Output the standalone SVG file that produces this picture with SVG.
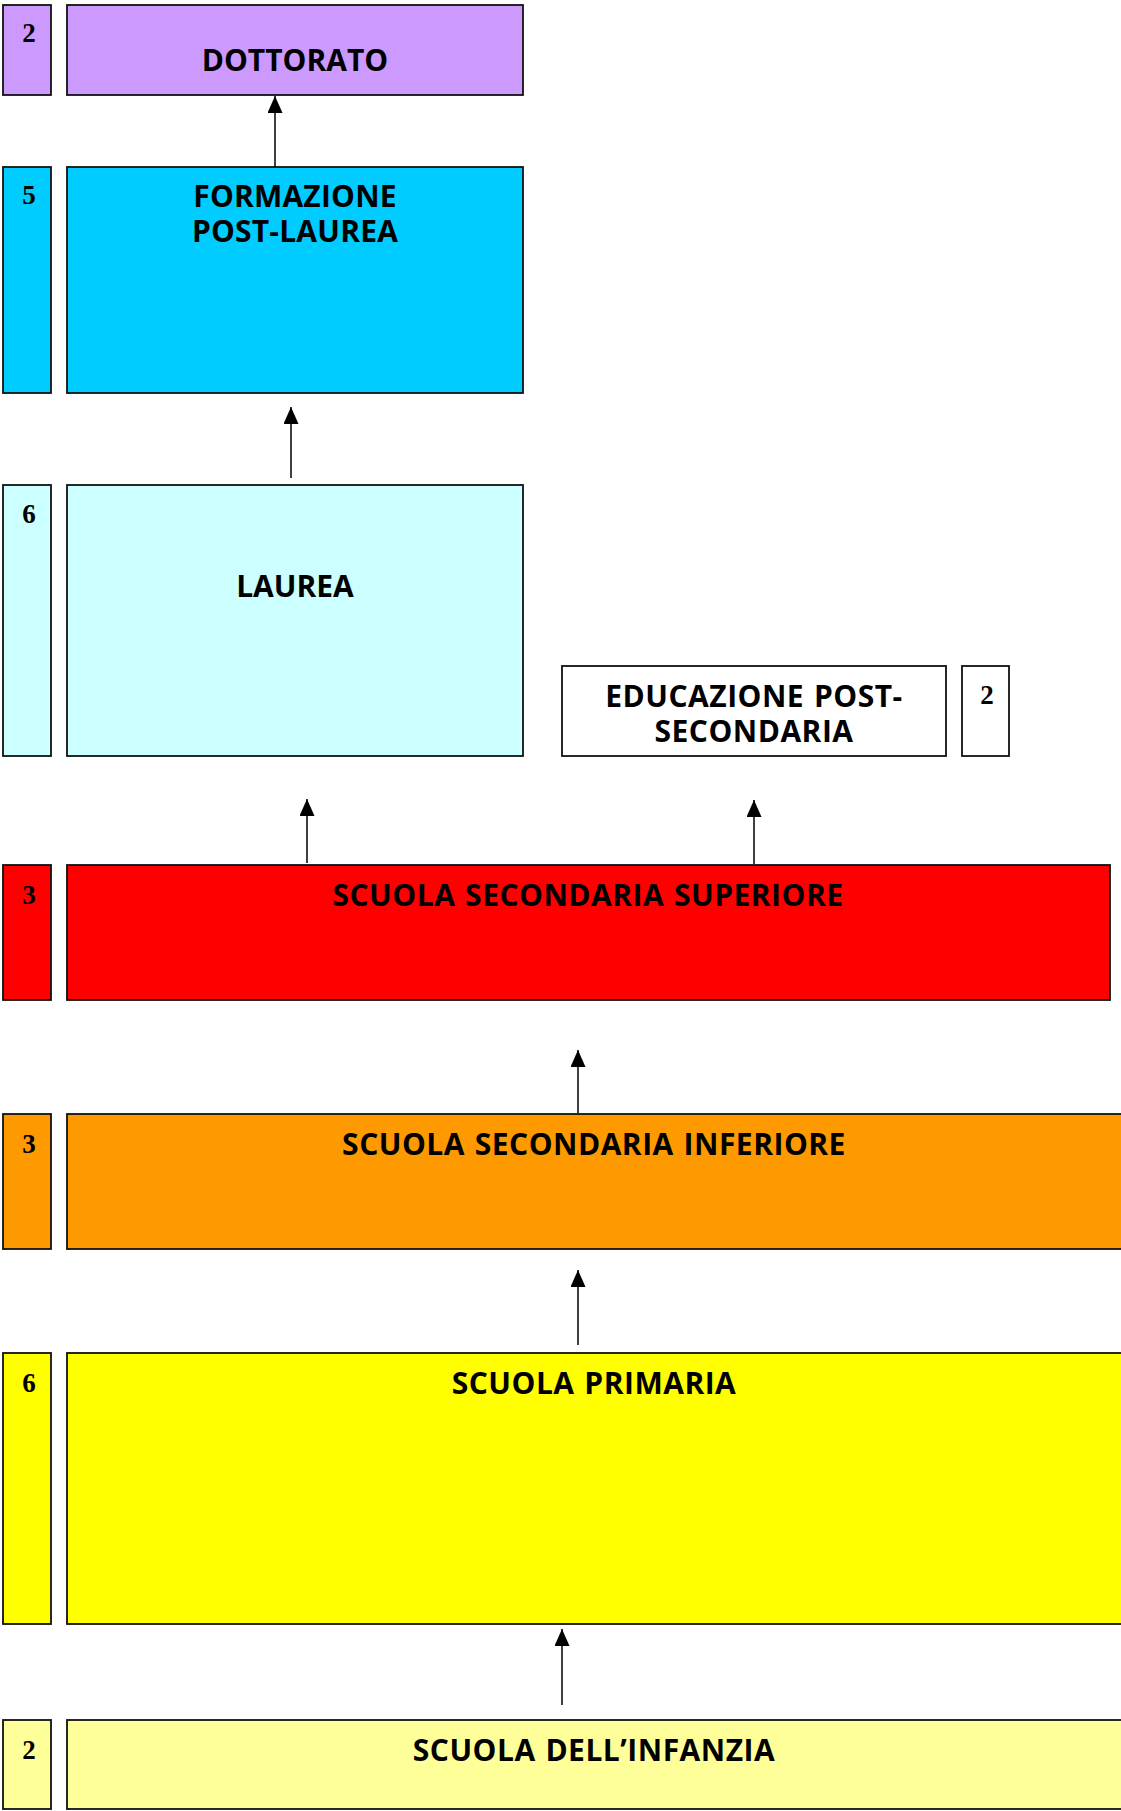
<svg xmlns="http://www.w3.org/2000/svg" width="1121" height="1811" viewBox="0 0 1121 1811">
<style>
.box{stroke:#111;stroke-width:1.8}
.t{font-family:"Open Sans","DejaVu Sans",sans-serif;font-weight:700;font-size:30px;fill:#000;text-anchor:middle;letter-spacing:0.5px;word-spacing:1.5px}
.n{font-family:"Liberation Serif","Times New Roman",serif;font-weight:700;font-size:27px;fill:#000;text-anchor:middle}
.c{stroke:#000;stroke-width:1.5;fill:none;marker-end:url(#ah)}
</style>
<defs>
<marker id="ah" markerUnits="userSpaceOnUse" markerWidth="17" markerHeight="15" refX="17" refY="7.5" orient="auto">
<path d="M0,0 L17,7.5 L0,15 z" fill="#000"/>
</marker>
</defs>
<rect width="1121" height="1811" fill="#fff"/>
<g id="dottorato">
<rect class="box" x="3" y="5" width="48" height="90" fill="#CC99FF"/>
<rect class="box" x="67" y="5" width="456" height="90" fill="#CC99FF"/>
<text class="n" x="29" y="42">2</text>
<text class="t" x="295" y="71" style="letter-spacing:0">DOTTORATO</text>
</g>
<g id="formazione">
<rect class="box" x="3" y="167" width="48" height="226" fill="#00CCFF"/>
<rect class="box" x="67" y="167" width="456" height="226" fill="#00CCFF"/>
<text class="n" x="29" y="204">5</text>
<text class="t" x="295" y="207" style="letter-spacing:0.2px">FORMAZIONE</text>
<text class="t" x="295" y="242" style="letter-spacing:0.2px">POST-LAUREA</text>
</g>
<g id="laurea">
<rect class="box" x="3" y="485" width="48" height="271" fill="#CCFFFF"/>
<rect class="box" x="67" y="485" width="456" height="271" fill="#CCFFFF"/>
<text class="n" x="29" y="523">6</text>
<text class="t" x="295" y="597" style="letter-spacing:0">LAUREA</text>
</g>
<g id="educazione">
<rect class="box" x="562" y="666" width="384" height="90" fill="#fff"/>
<rect class="box" x="962" y="666" width="47" height="90" fill="#fff"/>
<text class="n" x="987" y="704">2</text>
<text class="t" x="754" y="707">EDUCAZIONE POST-</text>
<text class="t" x="754" y="742">SECONDARIA</text>
</g>
<g id="superiore">
<rect class="box" x="3" y="865" width="48" height="135" fill="#FF0000"/>
<rect class="box" x="67" y="865" width="1043" height="135" fill="#FF0000"/>
<text class="n" x="29" y="904">3</text>
<text class="t" x="588" y="906">SCUOLA SECONDARIA SUPERIORE</text>
</g>
<g id="inferiore">
<rect class="box" x="3" y="1114" width="48" height="135" fill="#FF9900"/>
<rect class="box" x="67" y="1114" width="1060" height="135" fill="#FF9900"/>
<text class="n" x="29" y="1153">3</text>
<text class="t" x="594" y="1155">SCUOLA SECONDARIA INFERIORE</text>
</g>
<g id="primaria">
<rect class="box" x="3" y="1353" width="48" height="271" fill="#FFFF00"/>
<rect class="box" x="67" y="1353" width="1060" height="271" fill="#FFFF00"/>
<text class="n" x="29" y="1392">6</text>
<text class="t" x="594" y="1394">SCUOLA PRIMARIA</text>
</g>
<g id="infanzia">
<rect class="box" x="3" y="1720" width="48" height="89" fill="#FFFF99"/>
<rect class="box" x="67" y="1720" width="1060" height="89" fill="#FFFF99"/>
<text class="n" x="29" y="1759">2</text>
<text class="t" x="594" y="1761">SCUOLA DELL’INFANZIA</text>
</g>
<g id="connectors">
<line class="c" x1="275" y1="167" x2="275" y2="96"/>
<line class="c" x1="291" y1="478" x2="291" y2="407"/>
<line class="c" x1="307" y1="863" x2="307" y2="799"/>
<line class="c" x1="754" y1="864" x2="754" y2="800"/>
<line class="c" x1="578" y1="1113" x2="578" y2="1050"/>
<line class="c" x1="578" y1="1345" x2="578" y2="1270"/>
<line class="c" x1="562" y1="1705" x2="562" y2="1629"/>
</g>
</svg>
